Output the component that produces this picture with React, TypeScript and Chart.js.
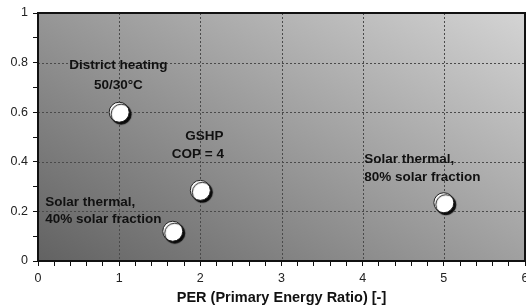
import React, { useEffect, useRef } from "react";
import { Chart, registerables } from "chart.js";

Chart.register(...registerables);

// Data
const xValues = [1, 2, 1.66, 5];
const yValues = [0.6, 0.285, 0.12, 0.235];
const xTickLabels = ["0", "1", "2", "3", "4", "5", "6"];
const yTickLabels = ["0", "0.2", "0.4", "0.6", "0.8", "1"];
const xTitle = "PER (Primary Energy Ratio) [-]";

// Annotations (text lines + anchor in data units)
const annLine1 = ["District heating", "GSHP", "Solar thermal,", "Solar thermal,"];
const annLine2 = ["50/30°C", "COP = 4", "40% solar fraction", "80% solar fraction"];
const annX1 = [0.99, 2.05, 0.09, 4.02];
const annX2 = [0.99, 1.97, 0.09, 4.02];
const annY1 = [0.79, 0.504, 0.238, 0.411];
const annY2 = [0.71, 0.431, 0.169, 0.339];
const annAlign = ["center", "center", "left", "left"];

const near = (v: number, step: number) => Math.abs(v / step - Math.round(v / step)) < 1e-6;
const FONT = "'Liberation Sans', Arial, sans-serif";

const bgPlugin = {
  id: "bgPlugin",
  beforeDatasetsDraw(chart: any) {
    const { ctx, chartArea: a, scales } = chart;
    const { left, right, top, bottom } = a;
    ctx.save();
    const g = ctx.createLinearGradient(left, bottom, left + 241, bottom - 397);
    g.addColorStop(0, "rgb(98,98,98)");
    g.addColorStop(1, "rgb(212,212,212)");
    ctx.fillStyle = g;
    ctx.fillRect(left, top, right - left, bottom - top);
    // dotted grid
    ctx.strokeStyle = "#4a4a4a";
    ctx.lineWidth = 1;
    ctx.setLineDash([2, 2]);
    for (let i = 1; i < xTickLabels.length - 1; i++) {
      const px = Math.round(scales.x.getPixelForValue(Number(xTickLabels[i]))) + 0.5;
      ctx.beginPath();
      ctx.moveTo(px, top);
      ctx.lineTo(px, bottom);
      ctx.stroke();
    }
    for (let i = 1; i < yTickLabels.length - 1; i++) {
      const py = Math.round(scales.y.getPixelForValue(Number(yTickLabels[i]))) + 0.5;
      ctx.beginPath();
      ctx.moveTo(left, py);
      ctx.lineTo(right, py);
      ctx.stroke();
    }
    ctx.setLineDash([]);
    ctx.strokeStyle = "#111";
    ctx.lineWidth = 2;
    ctx.strokeRect(left, top, right - left, bottom - top);
    // annotations
    ctx.fillStyle = "#111";
    ctx.font = "bold 13.5px " + FONT;
    ctx.textBaseline = "middle";
    for (let i = 0; i < annLine1.length; i++) {
      ctx.textAlign = annAlign[i] as CanvasTextAlign;
      ctx.fillText(annLine1[i], scales.x.getPixelForValue(annX1[i]), scales.y.getPixelForValue(annY1[i]));
      ctx.fillText(annLine2[i], scales.x.getPixelForValue(annX2[i]), scales.y.getPixelForValue(annY2[i]));
    }
    ctx.restore();
  },
  beforeDatasetDraw(chart: any) {
    const ctx = chart.ctx;
    ctx.save();
    ctx.shadowColor = "rgba(0,0,0,0.95)";
    ctx.shadowOffsetX = 2;
    ctx.shadowOffsetY = 2;
    ctx.shadowBlur = 1;
  },
  afterDatasetDraw(chart: any) {
    chart.ctx.restore();
  },
};

export default function App() {
  const ref = useRef<HTMLCanvasElement>(null);
  useEffect(() => {
    document.body.style.margin = "0";
    const chart = new Chart(ref.current!, {
      type: "scatter",
      data: {
        datasets: [
          {
            data: xValues.map((x, i) => ({ x, y: yValues[i] })),
            pointRadius: 10,
            pointHoverRadius: 10,
            pointBackgroundColor: "#ffffff",
            pointBorderColor: "#222",
            pointBorderWidth: 1,
          },
        ],
      },
      options: {
        animation: false,
        responsive: false,
        events: [],
        layout: { autoPadding: false, padding: { top: 13, right: 1, left: 0, bottom: 0 } },
        plugins: { legend: { display: false }, tooltip: { enabled: false } },
        scales: {
          x: {
            type: "linear",
            min: 0,
            max: 6,
            afterFit: (s: any) => { s.height = 46; s.paddingLeft = 0; s.paddingRight = 0; },
            ticks: {
              stepSize: 0.2,
              autoSkip: false,
              maxRotation: 0,
              padding: 5,
              color: "#222",
              font: { family: FONT, size: 12.5 },
              callback: (v: any) => (near(Number(v), 1) ? xTickLabels[Math.round(Number(v))] : ""),
            },
            grid: { drawOnChartArea: false, tickLength: 5, tickColor: "#111", tickWidth: 1 },
            border: { display: false },
            title: {
              display: true,
              text: xTitle,
              color: "#111",
              font: { family: FONT, size: 14.5, weight: "bold" },
              padding: { top: 0, bottom: 0 },
            },
          },
          y: {
            type: "linear",
            min: 0,
            max: 1,
            afterFit: (s: any) => { s.width = 38; s.paddingTop = 0; s.paddingBottom = 0; },
            ticks: {
              stepSize: 0.1,
              autoSkip: false,
              padding: 5,
              color: "#222",
              font: { family: FONT, size: 12.5 },
              callback: (v: any) => (near(Number(v), 0.2) ? yTickLabels[Math.round(Number(v) / 0.2)] : ""),
            },
            grid: { drawOnChartArea: false, tickLength: 5, tickColor: "#111", tickWidth: 1 },
            border: { display: false },
          },
        },
      },
      plugins: [bgPlugin],
    });
    return () => chart.destroy();
  }, []);
  return (
    <div style={{ width: 526, height: 307 }}>
      <canvas ref={ref} width={526} height={307} style={{ display: "block" }} />
    </div>
  );
}
